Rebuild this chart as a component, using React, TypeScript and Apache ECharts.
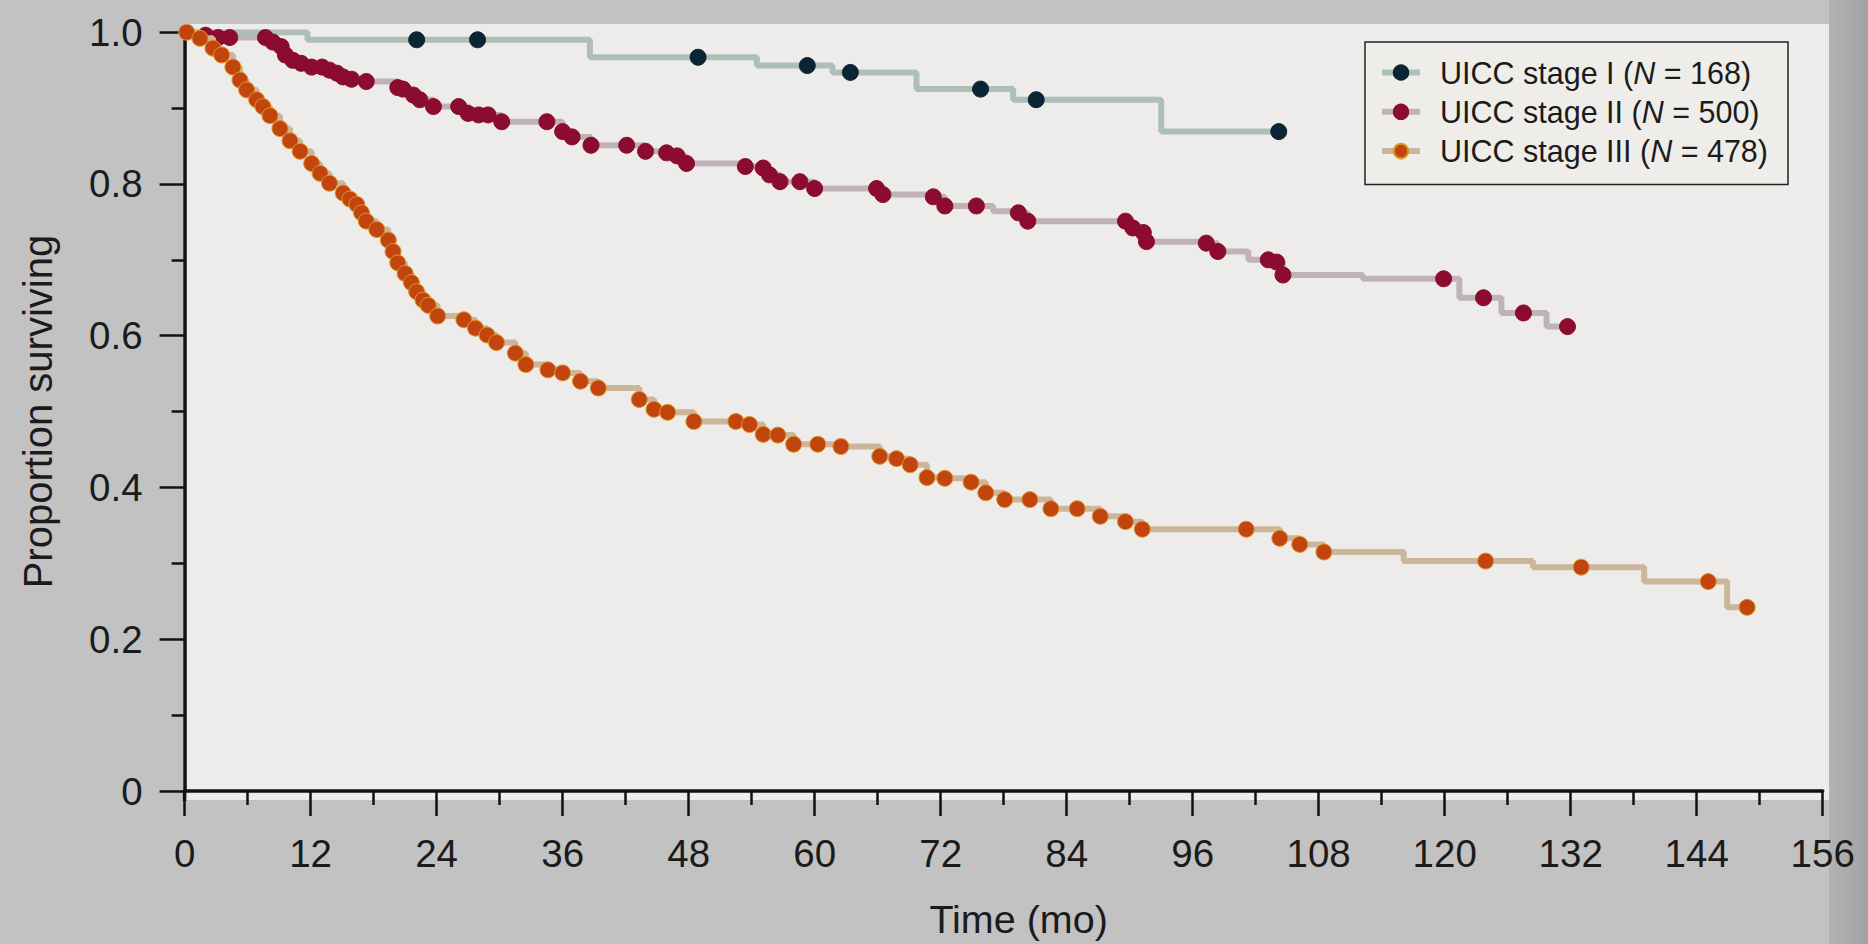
import React, { useEffect, useRef } from 'react';
import * as echarts from 'echarts';

// Series names and group sizes
const seriesNames = ['UICC stage I', 'UICC stage II', 'UICC stage III'];
const sampleSizes = [168, 500, 478];

// Axis ranges (x: months, y: proportion surviving)
const xMin = 0;
const xMax = 156;
const xStep = 12;
const yMin = 0;
const yMax = 1;
const yStep = 0.2;

// Kaplan-Meier curves: [time (mo), proportion surviving, censor mark shown (1) or not (0)]
const stage1: [number, number, number][] = [
  [0, 1.0, 0], [11.7, 0.99, 0], [22.1, 0.99, 1], [27.9, 0.99, 1], [38.6, 0.967, 0],
  [48.9, 0.967, 1], [54.5, 0.956, 0], [59.3, 0.956, 1], [61.7, 0.947, 0], [63.4, 0.947, 1],
  [69.7, 0.925, 0], [75.8, 0.925, 1], [78.9, 0.911, 0], [81.1, 0.911, 1], [93.0, 0.869, 0],
  [104.2, 0.869, 1],
];

const stage2: [number, number, number][] = [
  [0, 1.0, 0], [2.0, 0.996, 1], [3.2, 0.993, 1], [4.3, 0.993, 1], [7.7, 0.993, 1],
  [8.4, 0.987, 1], [9.2, 0.981, 1], [9.6, 0.97, 1], [10.3, 0.963, 1], [11.1, 0.959, 1],
  [12.1, 0.954, 1], [13.1, 0.954, 1], [13.8, 0.95, 1], [14.5, 0.946, 1], [15.1, 0.941, 1],
  [15.9, 0.938, 1], [17.3, 0.935, 1], [20.3, 0.927, 1], [20.8, 0.925, 1], [21.8, 0.917, 1],
  [22.4, 0.911, 1], [23.7, 0.902, 1], [26.1, 0.902, 1], [27.0, 0.893, 1], [28.0, 0.891, 1],
  [28.9, 0.891, 1], [30.2, 0.882, 1], [34.5, 0.882, 1], [36.0, 0.869, 1], [36.9, 0.862, 1],
  [38.7, 0.851, 1], [42.1, 0.851, 1], [43.9, 0.843, 1], [45.9, 0.841, 1], [46.9, 0.837, 1],
  [47.8, 0.827, 1], [53.4, 0.823, 1], [55.1, 0.821, 1], [55.7, 0.812, 1], [56.7, 0.803, 1],
  [58.6, 0.803, 1], [60.0, 0.794, 1], [65.9, 0.794, 1], [66.5, 0.786, 1], [71.3, 0.783, 1],
  [72.4, 0.771, 1], [75.4, 0.771, 1], [77.0, 0.764, 0], [79.4, 0.762, 1], [80.3, 0.751, 1],
  [89.6, 0.751, 1], [90.3, 0.742, 1], [91.3, 0.736, 1], [91.6, 0.724, 1], [97.3, 0.722, 1],
  [98.4, 0.711, 1], [101.3, 0.7, 0], [103.2, 0.7, 1], [104.0, 0.697, 1], [104.6, 0.68, 1],
  [112.2, 0.675, 0], [119.9, 0.675, 1], [121.4, 0.65, 0], [123.7, 0.65, 1], [125.4, 0.63, 0],
  [127.5, 0.63, 1], [129.7, 0.612, 0], [131.7, 0.612, 1],
];

const stage3: [number, number, number][] = [
  [0, 1.0, 0], [0.2, 1.0, 1], [1.46, 0.992, 1], [2.7, 0.979, 1], [3.53, 0.97, 1],
  [4.6, 0.954, 1], [5.27, 0.937, 1], [5.91, 0.924, 1], [6.86, 0.911, 1], [7.46, 0.902, 1],
  [8.13, 0.89, 1], [9.08, 0.873, 1], [10.04, 0.857, 1], [11.0, 0.843, 1], [12.1, 0.827, 1],
  [12.9, 0.814, 1], [13.8, 0.801, 1], [15.1, 0.788, 1], [15.75, 0.78, 1], [16.4, 0.773, 1],
  [16.85, 0.762, 1], [17.3, 0.751, 1], [18.3, 0.74, 1], [19.4, 0.726, 1], [19.85, 0.711, 1],
  [20.3, 0.696, 1], [21.0, 0.682, 1], [21.6, 0.67, 1], [22.1, 0.658, 1], [22.7, 0.647, 1],
  [23.2, 0.64, 1], [24.1, 0.626, 1], [26.6, 0.621, 1], [27.7, 0.61, 1], [28.8, 0.601, 1],
  [29.7, 0.591, 1], [31.5, 0.577, 1], [32.5, 0.562, 1], [34.6, 0.555, 1], [36.0, 0.551, 1],
  [37.7, 0.54, 1], [39.4, 0.531, 1], [43.3, 0.516, 1], [44.7, 0.503, 1], [46.0, 0.499, 1],
  [48.5, 0.487, 1], [52.5, 0.487, 1], [53.8, 0.483, 1], [55.1, 0.47, 1], [56.5, 0.469, 1],
  [58.0, 0.457, 1], [60.3, 0.457, 1], [62.5, 0.454, 1], [66.2, 0.441, 1], [67.8, 0.438, 1],
  [69.1, 0.43, 1], [70.7, 0.413, 1], [72.4, 0.412, 1], [74.9, 0.407, 1], [76.3, 0.393, 1],
  [78.1, 0.384, 1], [80.5, 0.384, 1], [82.5, 0.372, 1], [85.0, 0.372, 1], [87.2, 0.362, 1],
  [89.6, 0.355, 1], [91.2, 0.345, 1], [101.1, 0.345, 1], [104.3, 0.333, 1], [106.2, 0.325, 1],
  [108.5, 0.315, 1], [116.1, 0.303, 0], [123.9, 0.303, 1], [128.4, 0.295, 0], [133.0, 0.295, 1],
  [139.0, 0.276, 0], [145.1, 0.276, 1], [146.9, 0.242, 0], [148.8, 0.242, 1],
];

const curves = [stage1, stage2, stage3];
const lineColors = ['#adc0b8', '#bfb2bb', '#cbb69c'];
const dotColors = ['#0c2535', '#8b0c2e', '#c2450f'];
const dotBorders = ['#0c2535', '#8b0c2e', '#d9982c'];

const FONT = '"Liberation Sans", Arial, Helvetica, sans-serif';
const INK = '#1b1b1b';

const toData = (rows: [number, number, number][]) =>
  rows.map(([t, s, m]) => (m ? { value: [t, s] } : { value: [t, s], symbol: 'none' }));

export default function App() {
  const ref = useRef<HTMLDivElement>(null);

  useEffect(() => {
    document.body.style.margin = '0';
    if (!ref.current) return;
    const chart = echarts.init(ref.current, null, { renderer: 'svg' });

    const gridLeft = 184.6;
    const gridRight = 45.3;
    const gridTop = 32.2;
    const gridBottom = 151.8;

    const option: any = {
      animation: false,
      backgroundColor: '#c2c2c2',
      textStyle: { fontFamily: FONT },
      graphic: [
        {
          type: 'rect',
          z: -1,
          silent: true,
          shape: { x: 183, y: 24, width: 1646, height: 776 },
          style: { fill: '#edecea' },
        },
        {
          type: 'rect',
          z: -1,
          silent: true,
          shape: { x: 1829, y: 0, width: 39, height: 944 },
          style: {
            fill: new echarts.graphic.LinearGradient(0, 0, 1, 0, [
              { offset: 0, color: '#b3b3b3' },
              { offset: 1, color: '#a2a2a2' },
            ]),
          },
        },
        {
          type: 'line',
          z: 5,
          silent: true,
          shape: { x1: gridLeft, y1: 790, x2: gridLeft, y2: 801 },
          style: { stroke: '#111', lineWidth: 3.5 },
        },
      ],
      grid: { left: gridLeft, right: gridRight, top: gridTop, bottom: gridBottom, containLabel: false },
      legend: {
        orient: 'vertical',
        left: 1365,
        top: 42,
        align: 'left',
        backgroundColor: '#eeede9',
        borderColor: '#222',
        borderWidth: 1.5,
        borderRadius: 0,
        padding: [15, 20, 18, 14],
        itemGap: 8.3,
        itemWidth: 38,
        itemHeight: 18,
        data: seriesNames,
        lineStyle: { width: 6 },
        formatter: (name: string) => {
          const i = seriesNames.indexOf(name);
          return `{a|${name} (}{n|N}{a| = ${sampleSizes[i]})}`;
        },
        textStyle: {
          fontSize: 30,
          color: INK,
          fontFamily: FONT,
          padding: [0, 0, 0, 15],
          rich: {
            a: { fontSize: 30.5, color: INK, fontFamily: FONT },
            n: { fontSize: 30.5, color: INK, fontFamily: FONT, fontStyle: 'italic' },
          },
        },
      },
      xAxis: {
        type: 'value',
        min: xMin,
        max: xMax,
        interval: xStep,
        offset: 7,
        axisLine: { show: true, lineStyle: { color: '#111', width: 3.5 } },
        axisTick: { show: true, length: 25, lineStyle: { color: '#111', width: 2.5 } },
        minorTick: { show: true, splitNumber: 2, length: 14, lineStyle: { color: '#111', width: 2.5 } },
        splitLine: { show: false },
        minorSplitLine: { show: false },
        axisLabel: { fontSize: 38.5, color: INK, margin: 36, fontFamily: FONT },
        name: 'Time (mo)',
        nameLocation: 'middle',
        nameGap: 101,
        nameTextStyle: { fontSize: 39.5, color: INK, fontFamily: FONT, padding: [0, 0, 0, 30] },
      },
      yAxis: {
        type: 'value',
        min: yMin,
        max: yMax,
        interval: yStep,
        axisLine: { show: true, lineStyle: { color: '#111', width: 3.5 } },
        axisTick: { show: true, length: 25, lineStyle: { color: '#111', width: 2.5 } },
        minorTick: { show: true, splitNumber: 2, length: 13, lineStyle: { color: '#111', width: 2.5 } },
        splitLine: { show: false },
        minorSplitLine: { show: false },
        axisLabel: {
          fontSize: 38.5,
          color: INK,
          margin: 42,
          fontFamily: FONT,
          formatter: (v: number) => (v === 0 ? '0' : v.toFixed(1)),
        },
        name: 'Proportion surviving',
        nameLocation: 'middle',
        nameGap: 127,
        nameRotate: 90,
        nameTextStyle: { fontSize: 40, color: INK, fontFamily: FONT },
      },
      series: curves.map((rows, i) => ({
        name: seriesNames[i],
        type: 'line',
        step: 'end',
        data: toData(rows),
        symbol: 'circle',
        symbolSize: 16,
        showSymbol: true,
        showAllSymbol: true,
        silent: true,
        lineStyle: { color: lineColors[i], width: 6 },
        itemStyle: { color: dotColors[i], borderColor: dotBorders[i], borderWidth: 1 },
        emphasis: { disabled: true },
        z: 2 + i,
      })),
    };

    chart.setOption(option);
    return () => chart.dispose();
  }, []);

  return <div ref={ref} style={{ width: 1868, height: 944 }} />;
}
